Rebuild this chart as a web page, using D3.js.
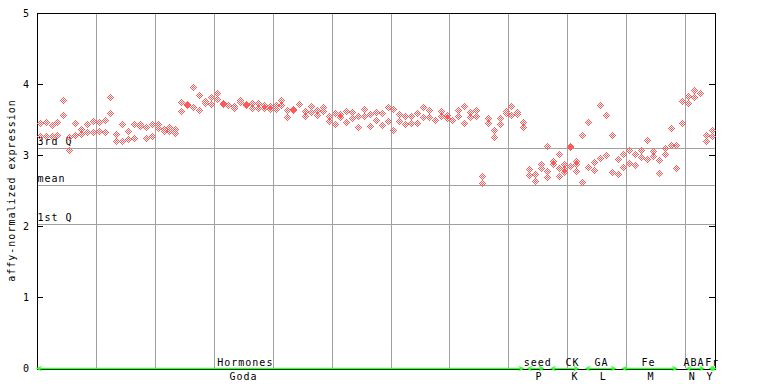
<!DOCTYPE html>
<html><head><meta charset="utf-8">
<script src="https://cdn.jsdelivr.net/npm/d3@7"></script>
<style>
body{margin:0;background:#fff}
svg{display:block}
text{font-family:"DejaVu Sans Mono",monospace;font-size:10px;fill:#000}
</style>
</head><body>
<svg id="chart" width="768" height="384"></svg>
<script>
// ---------- data ----------
const yTicks = [0, 1, 2, 3, 4, 5];
const statLabels = ["3rd Q", "mean", "1st Q"];
const statValues = [3.10, 2.58, 2.03];
const yTitle = "affy-normalized expression";

// replicate values for each of the 115 samples (left to right)
const sampleValues = [
  [3.455,3.263],[3.465,3.263],[3.42,3.263],[3.465,3.28],[3.77,3.563],
  [3.249,3.07],[3.45,3.286],[3.36,3.29],[3.437,3.32],[3.474,3.32],
  [3.465,3.333],[3.5,3.32],[3.817,3.596],[3.296,3.197],[3.432,3.193],
  [3.338,3.22],[3.437,3.235],[3.437,3.41],[3.394,3.244],[3.437,3.263],
  [3.437,3.376],[3.37,3.34],[3.40,3.34],[3.366,3.31],[3.742,3.624],
  [3.725,3.71],[3.953,3.672],[3.845,3.63],[3.756,3.732],[3.812,3.714],
  [3.869,3.789],[3.735,3.72],[3.704,3.70],[3.69,3.657],[3.779,3.742],
  [3.72,3.705],[3.728,3.662],[3.728,3.667],[3.704,3.657],[3.69,3.648],
  [3.709,3.653],[3.775,3.704],[3.634,3.535],[3.645,3.63],[3.718,3.716],
  [3.615,3.545],[3.685,3.61],[3.63,3.563],[3.672,3.615],[3.545,3.474],
  [3.587,3.437],[3.578,3.54],[3.615,3.465],[3.606,3.521],[3.549,3.39],
  [3.643,3.554],[3.573,3.408],[3.606,3.488],[3.592,3.423],[3.672,3.474],
  [3.648,3.347],[3.578,3.474],[3.545,3.432],[3.545,3.455],[3.592,3.45],
  [3.672,3.535],[3.634,3.535],[3.50,3.495],[3.615,3.554],[3.563,3.521],
  [3.50,3.495],[3.63,3.545],[3.685,3.45],[3.601,3.53],[3.63,3.545],
  [2.70,2.60],[3.516,3.446],[3.347,3.249],[3.516,3.432],[3.615,3.592],
  [3.685,3.559],[3.606,3.578],[3.46,3.39],[2.80,2.714],[2.728,2.63],
  [2.869,2.813],[3.122,2.77,2.686],[2.91,2.873],[3.02,2.81,2.70],[2.87,2.80,2.765],
  [3.122,3.11,2.84],[2.91,2.88,2.77],[3.277,2.615],[3.46,2.827],[2.897,2.789],
  [3.70,2.953],[3.559,2.995],[3.277,2.756],[2.939,2.728],[3.01,2.83],
  [3.07,2.883],[3.01,2.855],[3.07,2.967],[3.21,2.944],[3.056,2.98],
  [2.925,2.742],[3.094,3.01],[3.376,3.136],[3.136,2.813],[3.756,3.446],
  [3.836,3.728],[3.92,3.82],[3.88,3.875],[3.277,3.197],[3.347,3.263]
];

// experiment groups along the bottom (positions in sample-index units)
const catNames  = ["Hormones","seed","CK","GA","Fe","ABA","Fr"];
const catCodes  = ["Goda","P","K","L","M","N","Y"];
const catStart  = [-0.5, 82.7, 86.7, 92.6, 98.8, 109.7, 113.6];
const catEnd    = [81.9, 85.3, 91.2, 97.5, 107.9, 112.5, 114.5];
const catNameAt = [34.7, 84.3, 90.2, 95.1, 103.1, 110.8, 113.9];
const catCodeAt = [34.4, 84.5, 90.6, 95.4, 103.5, 110.5, 113.5];

// ---------- chart ----------
const svg = d3.select("#chart");
const nSamples = sampleValues.length;
const xs = d3.scaleLinear().domain([-0.5, nSamples - 0.5]).range([37.3, 715.3]);
const ys = d3.scaleLinear().domain([0, 5]).range([368, 13]);
const gridColor = "#a0a0a0";
const pointColor = "#ff5a5a";
const green = "#33ff33";

// vertical grid every 10 samples
const gridIdx = d3.range(9.5, nSamples - 1, 10);
svg.append("g").selectAll("line").data(gridIdx).join("line")
  .attr("x1", d => Math.floor(xs(d)) + 0.5).attr("x2", d => Math.floor(xs(d)) + 0.5)
  .attr("y1", ys(5)).attr("y2", ys(0))
  .attr("stroke", gridColor).attr("stroke-width", 1);

// statistic lines
const stats = statLabels.map((l, i) => ({label: l, value: statValues[i]}));
const sg = svg.append("g");
sg.selectAll("line").data(stats).join("line")
  .attr("x1", 37).attr("x2", 716)
  .attr("y1", d => Math.round(ys(d.value)) + 0.5).attr("y2", d => Math.round(ys(d.value)) + 0.5)
  .attr("stroke", gridColor).attr("stroke-width", 1);
sg.selectAll("text").data(stats).join("text")
  .attr("x", 37.5).attr("y", d => Math.round(ys(d.value)) - 3)
  .attr("letter-spacing", 1)
  .text(d => d.label);

// frame: top line
svg.append("line").attr("x1", 37).attr("x2", 716).attr("y1", 13.5).attr("y2", 13.5)
  .attr("stroke", "#000");

// axes
const axL = svg.append("g").attr("transform", "translate(37,0)")
  .call(d3.axisLeft(ys).tickValues(yTicks).tickFormat(d3.format("d"))
        .tickSize(-6).tickSizeOuter(0).tickPadding(8));
axL.select(".domain").attr("stroke", "#000");
axL.selectAll("text").attr("font-family", "DejaVu Sans Mono, monospace").attr("font-size", 10).attr("fill", "#000");
const axR = svg.append("g").attr("transform", "translate(715,0)")
  .call(d3.axisRight(ys).tickValues(yTicks).tickFormat("")
        .tickSize(-6).tickSizeOuter(0));
axR.select(".domain").attr("stroke", "#000");

// bottom axis line
svg.append("line").attr("x1", 37).attr("x2", 716).attr("y1", 369.5).attr("y2", 369.5)
  .attr("stroke", "#000");

// y title
svg.append("text")
  .attr("transform", `translate(15,${(ys(0) + ys(5)) / 2}) rotate(-90)`)
  .attr("text-anchor", "middle").attr("letter-spacing", 1)
  .text(yTitle);

// points: checkered diamond glyph
const glyph = [];
for (let dx = -3; dx <= 3; dx++) for (let dy = -3; dy <= 3; dy++)
  if (Math.abs(dx) + Math.abs(dy) <= 3 && ((dx + dy) & 1)) glyph.push([dx, dy]);
const pts = [];
sampleValues.forEach((vals, i) => vals.forEach(v => pts.push({i, v})));
svg.append("g").attr("shape-rendering", "crispEdges")
  .selectAll("path").data(pts).join("path")
  .attr("fill", pointColor)
  .attr("d", d => {
    const cx = Math.floor(xs(d.i)), cy = Math.round(ys(d.v));
    return glyph.map(([dx, dy]) => `M${cx + dx},${cy + dy}h1v1h-1z`).join("");
  });

// category arrows and labels
const cats = catNames.map((n, k) => ({name: n, code: catCodes[k], s: catStart[k], e: catEnd[k], na: catNameAt[k], ca: catCodeAt[k]}));
const yArrow = 368.5;
const cg = svg.append("g").attr("stroke", green).attr("fill", "none").attr("stroke-width", 1.3);
cats.forEach(c => {
  const x0 = xs(c.s), x1 = xs(c.e);
  cg.append("line").attr("x1", x0).attr("x2", x1).attr("y1", yArrow).attr("y2", yArrow);
  cg.append("path").attr("d", `M${x0 + 4},${yArrow - 2}L${x0},${yArrow}L${x0 + 4},${yArrow + 2}`);
  cg.append("path").attr("d", `M${x1 - 4},${yArrow - 2}L${x1},${yArrow}L${x1 - 4},${yArrow + 2}`);
});
const lg = svg.append("g").attr("text-anchor", "middle").attr("letter-spacing", 1);
lg.selectAll("text.n").data(cats).join("text").attr("class", "n")
  .attr("x", d => xs(d.na) + 0.5).attr("y", 365.5).text(d => d.name);
lg.selectAll("text.c").data(cats).join("text").attr("class", "c")
  .attr("x", d => xs(d.ca) + 0.5).attr("y", 379.5).text(d => d.code);
</script>
</body></html>
